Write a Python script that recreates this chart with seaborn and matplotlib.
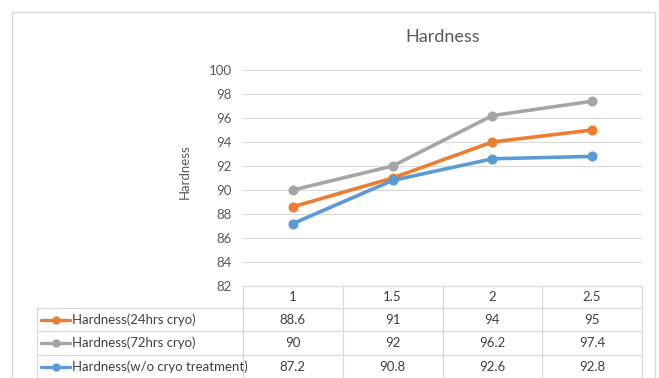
import pandas as pd
import matplotlib.pyplot as plt
import seaborn as sns
from matplotlib.lines import Line2D
from matplotlib.patches import Rectangle

# --- data ---
x_labels = ["1", "1.5", "2", "2.5"]
x_vals = [1, 1.5, 2, 2.5]
series_names = ["Hardness(24hrs cryo)", "Hardness(72hrs cryo)", "Hardness(w/o cryo treatment)"]
hard_24 = [88.6, 91, 94, 95]
hard_72 = [90, 92, 96.2, 97.4]
hard_wo = [87.2, 90.8, 92.6, 92.8]
y_ticks = [82, 84, 86, 88, 90, 92, 94, 96, 98, 100]

colors = ["#ED7D31", "#A5A5A5", "#5B9BD5"]
all_series = [hard_24, hard_72, hard_wo]

W, H = 659, 378
sns.set_style("white")
plt.rcParams["font.family"] = ["Lato", "DejaVu Sans"]

fig = plt.figure(figsize=(W / 100, H / 100), dpi=100)

def fx(px):
    return px / W

def fy(py):
    return 1 - py / H

# outer chart frame
fig.add_artist(Rectangle((fx(12), fy(390)), fx(655) - fx(12), fy(12) - fy(390),
                         transform=fig.transFigure, fill=False, edgecolor="#D9D9D9", lw=1))

ax_l, ax_r, ax_t, ax_b = 243, 642, 70, 286
ax = fig.add_axes([fx(ax_l), fy(ax_b), fx(ax_r) - fx(ax_l), fy(ax_t) - fy(ax_b)])

df = pd.DataFrame({"x": x_vals * 3,
                   "y": hard_24 + hard_72 + hard_wo,
                   "series": [n for n in series_names for _ in x_vals]})

for name, c in zip(series_names, colors):
    sub = df[df["series"] == name]
    sns.lineplot(data=sub, x="x", y="y", color=c, marker="o", markersize=6.5,
                 markeredgecolor=c, linewidth=2.6, ax=ax, zorder=3)

ax.set_xlim(0.75, 2.75)
ax.set_ylim(82, 100)
ax.set_yticks(y_ticks)
ax.set_xticks([])
ax.set_xlabel("")
ax.set_ylabel("")
ax.grid(axis="y", color="#D9D9D9", lw=0.8)
for s in ax.spines.values():
    s.set_visible(False)
ax.tick_params(axis="y", length=0, pad=8, labelsize=9.5, labelcolor="#595959")

fig.text(fx(443), fy(37), "Hardness", ha="center", va="center", fontsize=13, color="#595959")
fig.text(fx(185), fy(172), "Hardness", ha="center", va="center", rotation=90,
         fontsize=9.5, color="#595959")

# --- data table below the axis ---
line_kw = dict(color="#D9D9D9", lw=0.9, transform=fig.transFigure)
row_y = [286, 308, 331, 355, 379]
col_x = [ax_l + i * (ax_r - ax_l) / 4 for i in range(5)]
tab_l = 37

# horizontal lines
fig.add_artist(Line2D([fx(ax_l), fx(ax_r)], [fy(row_y[0])] * 2, **line_kw))
for yy in row_y[1:]:
    fig.add_artist(Line2D([fx(tab_l), fx(ax_r)], [fy(yy)] * 2, **line_kw))
# vertical lines
for xx in col_x:
    fig.add_artist(Line2D([fx(xx)] * 2, [fy(row_y[0]), fy(row_y[-1])], **line_kw))
fig.add_artist(Line2D([fx(tab_l)] * 2, [fy(row_y[1]), fy(row_y[-1])], **line_kw))

txt_kw = dict(ha="center", va="center", fontsize=9.5, color="#404040")
for i, lab in enumerate(x_labels):
    cx = (col_x[i] + col_x[i + 1]) / 2
    fig.text(fx(cx), fy((row_y[0] + row_y[1]) / 2), lab, **txt_kw)

for r, (name, vals, c) in enumerate(zip(series_names, all_series, colors)):
    cy = (row_y[r + 1] + row_y[r + 2]) / 2
    fig.add_artist(Line2D([fx(41), fx(70)], [fy(cy)] * 2, color=c, lw=2.4,
                          transform=fig.transFigure))
    fig.add_artist(Line2D([fx(55.5)], [fy(cy)], color=c, marker="o", markersize=5,
                          transform=fig.transFigure))
    fig.text(fx(72), fy(cy), name, ha="left", va="center", fontsize=9.5, color="#404040")
    for i, v in enumerate(vals):
        cx = (col_x[i] + col_x[i + 1]) / 2
        fig.text(fx(cx), fy(cy), f"{v:g}", **txt_kw)

fig.savefig("out.png", dpi=100)
